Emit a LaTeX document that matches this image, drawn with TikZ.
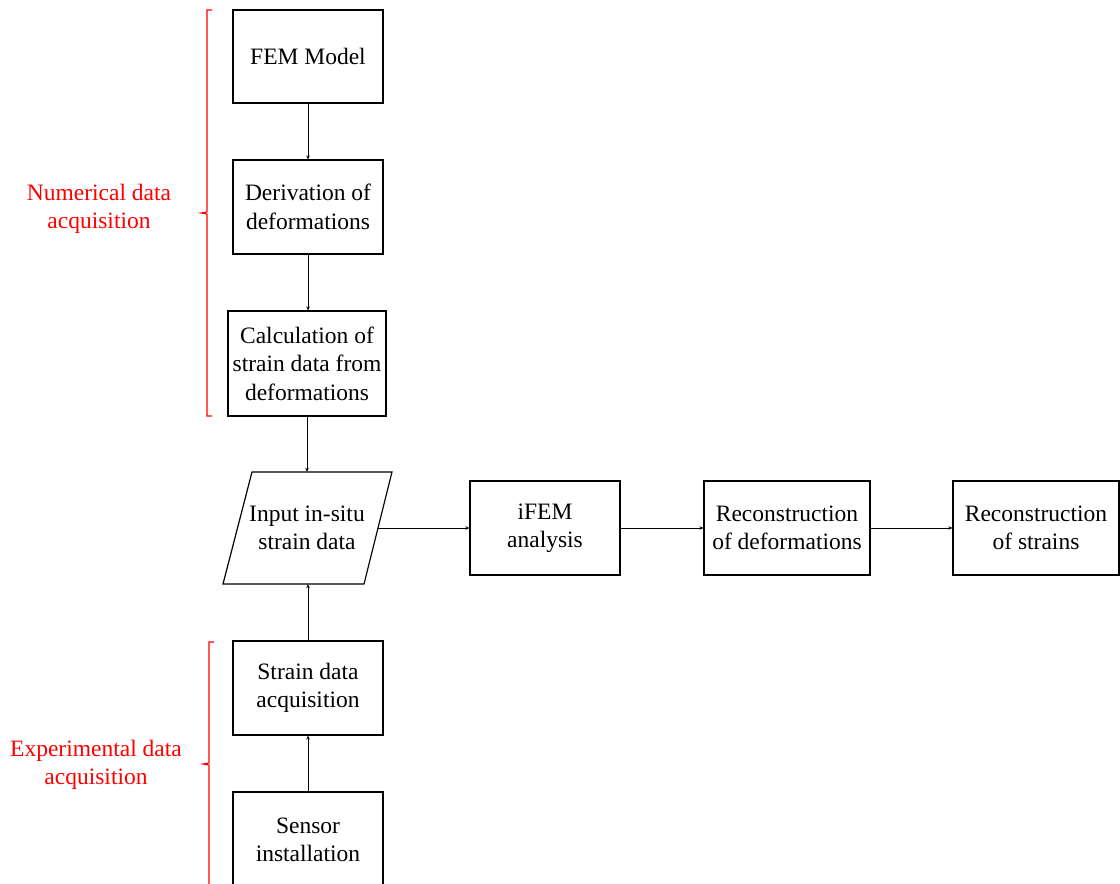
\documentclass[tikz,border=0pt]{standalone}
\usepackage{fontspec}
\setmainfont{Liberation Serif}
\usetikzlibrary{arrows.meta}
\begin{document}
\begin{tikzpicture}[x=1pt,y=-1pt,
  box/.style={draw=black, line width=1.2pt, align=center, inner sep=0pt,
    font=\fontsize{23.5}{28.5}\selectfont},
  lbl/.style={align=center, text=red, inner sep=0pt, font=\fontsize{23.5}{28.5}\selectfont},
  arr/.style={line width=0.9pt, -{Stealth[length=4pt,width=3.5pt]}},
  brace/.style={draw=red, line width=1.1pt}]
\useasboundingbox (0,0) rectangle (1120,884);
\begin{scope}
\clip (0,0) rectangle (1120,884);
% boxes
\node[box, minimum width=150pt, minimum height=93pt] (fem) at (308,56.5) {FEM Model};
\node[box, minimum width=150pt, minimum height=94pt] (der) at (308,207) {Derivation of\\deformations};
\node[box, minimum width=158pt, minimum height=105pt] (calc) at (307,363.5) {Calculation of\\strain data from\\deformations};
\draw[line width=1.2pt] (252,472) -- (392,472) -- (364,584) -- (223,584) -- cycle;
\node[align=center, inner sep=0pt, minimum width=169pt, minimum height=112pt,
  font=\fontsize{23.5}{28.5}\selectfont] (in) at (307,528) {Input in-situ\\strain data};
\coordinate (inE) at (378,528);
\node[box, minimum width=150pt, minimum height=94pt] (ifem) at (545,528) {iFEM\\analysis};
\node[box, minimum width=166pt, minimum height=94pt] (rdef) at (787,528) {Reconstruction\\of deformations};
\node[box, minimum width=166pt, minimum height=94pt] (rstr) at (1036,528) {Reconstruction\\of strains};
\node[box, minimum width=150pt, minimum height=94pt] (sacq) at (308,688) {Strain data\\acquisition};
\node[box, minimum width=150pt, minimum height=96pt] (sens) at (308,840) {Sensor\\installation};
% arrows
\draw[arr] (fem.south) -- (der.north);
\draw[arr] (der.south) -- (der.south |- calc.north);
\draw[arr] (calc.south) -- (in.north);
\draw[arr] (sacq.north) -- (sacq.north |- in.south);
\draw[arr] (sens.north) -- (sacq.south);
\draw[arr] (inE) -- (ifem.west);
\draw[arr] (ifem.east) -- (rdef.west);
\draw[arr] (rdef.east) -- (rstr.west);
% braces
\draw[brace] (212,10) -- (207,10) -- (207,212) -- (201,213) -- (207,214) -- (207,416) -- (212,416);
\draw[brace] (214,642) -- (209,642) -- (209,763) -- (203,764) -- (209,765) -- (209,890);
\end{scope}
\node[lbl] (num) at (99,209) {Numerical data\\acquisition};
\node[lbl] (exp) at (96,765) {Experimental data\\acquisition};
\end{tikzpicture}
\end{document}
